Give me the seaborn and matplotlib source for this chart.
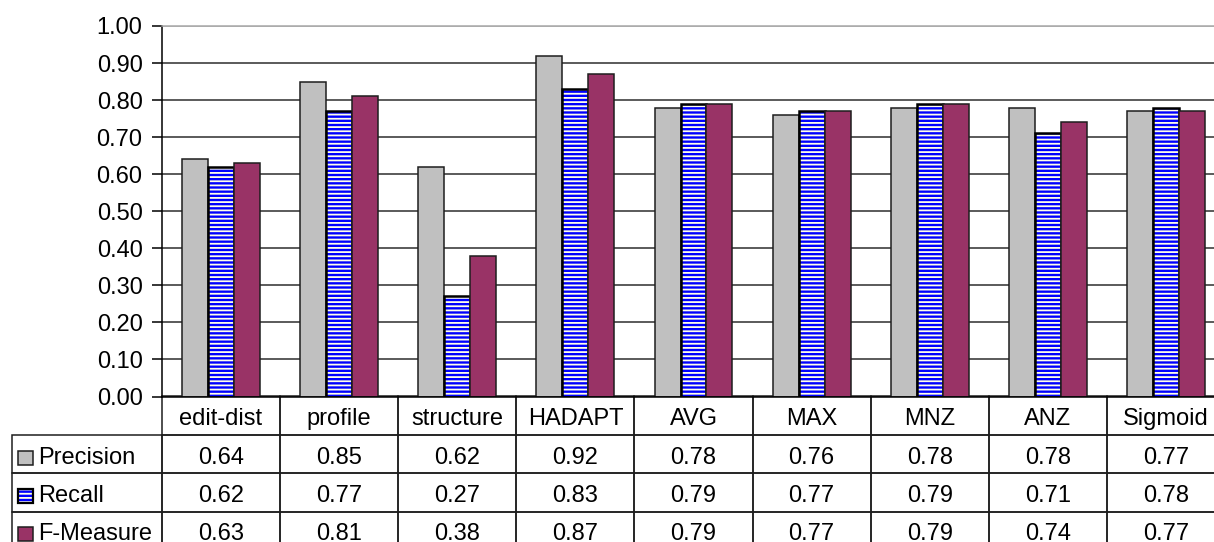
import numpy as np
import pandas as pd
import matplotlib
matplotlib.use("Agg")
import matplotlib.pyplot as plt
from matplotlib.patches import Rectangle
from matplotlib.colors import to_rgba
from matplotlib.transforms import Affine2D
import seaborn as sns

# ---- data -------------------------------------------------------------
methods = ["edit-dist", "profile", "structure", "HADAPT", "AVG", "MAX",
           "MNZ", "ANZ", "Sigmoid"]
metrics = ["Precision", "Recall", "F-Measure"]
precision = [0.64, 0.85, 0.62, 0.92, 0.78, 0.76, 0.78, 0.78, 0.77]
recall = [0.62, 0.77, 0.27, 0.83, 0.79, 0.77, 0.79, 0.71, 0.78]
f_measure = [0.63, 0.81, 0.38, 0.87, 0.79, 0.77, 0.79, 0.74, 0.77]
y_ticks = [0.0, 0.1, 0.2, 0.3, 0.4, 0.5, 0.6, 0.7, 0.8, 0.9, 1.0]

# ---- style ------------------------------------------------------------
sns.set_style("white")
plt.rcParams["font.family"] = ["Liberation Sans", "DejaVu Sans"]
plt.rcParams["hatch.linewidth"] = 1.3

face = {"Precision": "#C0C0C0", "Recall": "#0000FF", "F-Measure": "#993366"}
stripe = "#FFFFE8"
edge = "#1E1E1E"
FS = 17

df = pd.DataFrame({
    "method": methods * 3,
    "metric": np.repeat(metrics, len(methods)),
    "score": precision + recall + f_measure,
})

# ---- figure / axes layout (pixel units of a 1214x542 canvas) ----------
W, H = 1214, 542
left, right, top, bottom = 162, 1225, 26, 396.5
fig = plt.figure(figsize=(W / 100, H / 100), dpi=100, facecolor="white")
ax = fig.add_axes([left / W, 1 - bottom / H, (right - left) / W, (bottom - top) / H])
px_x = 1 / (right - left)
px_y = 1 / (bottom - top)


def set_stripes(patch):
    patch.set_hatch("----")
    if hasattr(patch, "set_hatchcolor"):
        patch.set_hatchcolor(stripe)
    else:
        patch._hatch_color = to_rgba(stripe)


sns.barplot(data=df, x="method", y="score", hue="metric", order=methods,
            hue_order=metrics, palette=face, width=0.66, saturation=1,
            errorbar=None, edgecolor=edge, linewidth=1.1, legend=False, ax=ax)

for bar in ax.containers[1]:
    bar.set_edgecolor("black")
    bar.set_linewidth(1.8)
    set_stripes(bar)

ax.set_xlim(-0.5, len(methods) - 0.5)
ax.set_ylim(0, 1)
ax.set_yticks(y_ticks)
ax.set_yticklabels([f"{v:.2f}" for v in y_ticks])
ax.set_xticks([])
ax.set_xlabel("")
ax.set_ylabel("")
ax.tick_params(axis="y", left=True, length=7, width=1.1, color="black",
               pad=7, labelsize=FS, labelcolor="black")

ax.set_axisbelow(True)
ax.yaxis.grid(True, color="#2E2E2E", linewidth=1.1)
ax.get_ygridlines()[-1].set_color("#A8A8A8")
for side in ("left", "bottom"):
    ax.spines[side].set_color("black")
    ax.spines[side].set_linewidth(1.1)
ax.spines["top"].set_color("#A8A8A8")
ax.spines["top"].set_linewidth(1.1)
ax.spines["right"].set_visible(False)

# ---- data table below the plot ----------------------------------------
row_h = 38.4 * px_y
label_w = 150 * px_x
cell_text = [[m] + [f"{v:.2f}" for v in s]
             for m, s in zip(metrics, (precision, recall, f_measure))]
tbl = ax.table(cellText=cell_text, colLabels=[""] + methods,
               colWidths=[label_w] + [1 / len(methods)] * len(methods),
               cellLoc="center", colLoc="center",
               bbox=[-label_w, -4 * row_h, 1 + label_w, 4 * row_h])
tbl.auto_set_font_size(False)
tbl.set_fontsize(FS)
text_shift = Affine2D().translate(0, -3.5)  # center capitals in each row
for (r, c), cell in tbl.get_celld().items():
    cell.set_edgecolor("#1E1E1E")
    cell.set_linewidth(1.1)
    cell.set_facecolor("none")
    txt = cell.get_text()
    txt.set_color("black")
    txt.set_transform(text_shift)
    if c == 0:
        if r == 0:
            cell.visible_edges = "open"
        else:
            txt.set_horizontalalignment("left")
            cell.PAD = 26 / 150

# legend keys in the label column
for i, m in enumerate(metrics, start=1):
    yc = -(i + 0.5) * row_h - 3.5 * px_y
    key = Rectangle((-144 * px_x, yc - 7 * px_y), 15 * px_x, 14 * px_y,
                    transform=ax.transAxes, clip_on=False,
                    facecolor=face[m], edgecolor="black" if m == "Recall" else edge,
                    linewidth=1.6 if m == "Recall" else 1.1, zorder=5)
    if m == "Recall":
        set_stripes(key)
    ax.add_patch(key)

fig.savefig("out.png", dpi=100, facecolor="white")
